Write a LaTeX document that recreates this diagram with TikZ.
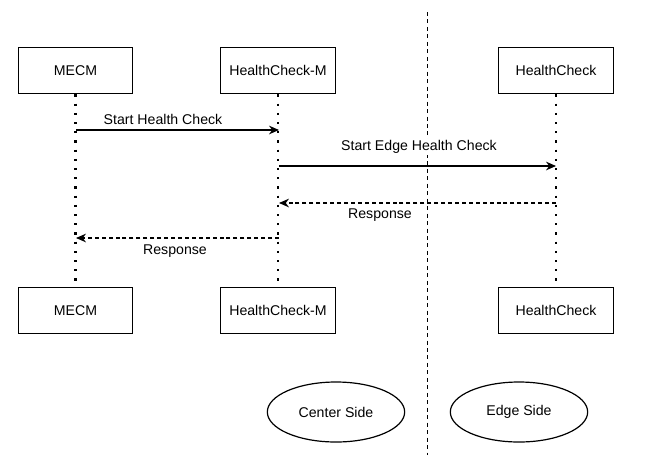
\documentclass[tikz,border=0pt]{standalone}
\usepackage{fontspec}
\setmainfont{Liberation Sans}
\usepackage{tikz}
\usetikzlibrary{arrows.meta}
\usetikzlibrary{shapes.geometric}

\begin{document}
\begin{tikzpicture}[x=0.75pt,y=-0.75pt,font=\fontsize{10.6}{12}\selectfont]
				\useasboundingbox (0,0) rectangle (661,469);
				\begin{scope}[every node/.style = {rectangle, draw, line width=0.9pt,
						minimum width=86pt, minimum height=35pt, inner sep=0pt}]
					\node (mecmT) at (75.5,70.5) {MECM};
					\node (hcmT) at (278,70.5) {HealthCheck-M};
					\node (hcT) at (556,70.5) {HealthCheck};
					\node (mecmB) at (75.5,310.5) {MECM};
					\node (hcmB) at (278,310.5) {HealthCheck-M};
					\node (hcB) at (556,310.5) {HealthCheck};
				\end{scope}
				\begin{scope}[every node/.style = {ellipse, draw, line width=0.9pt,
						minimum width=103pt, minimum height=45pt, inner sep=0pt}]
					\node (center) at (336,412) {Center Side};
					\node (edge) at (519,412) {Edge Side};
				\end{scope}
				% split between both sides
				\coordinate (splitT) at (427,12);
				\coordinate (splitB) at (427,455);
				\draw [line width=0.6pt, dash pattern=on 3pt off 2.6pt] (splitT) -- (splitB);
				% lifelines
				\begin{scope}[line width=1.6pt, dash pattern=on 1.6pt off 5.3pt]
					\draw (mecmT) -- (mecmB);
					\draw (hcmT) -- (hcmB);
					\draw (hcT) -- (hcB);
				\end{scope}
				% messages
				\coordinate (m1s) at (76,130);
				\coordinate (m1e) at (279,130);
				\coordinate (m2s) at (279,166);
				\coordinate (m2e) at (556,166);
				\coordinate (r1s) at (556,203);
				\coordinate (r1e) at (279,203);
				\coordinate (r2s) at (279,238);
				\coordinate (r2e) at (76,238);
				\begin{scope}[>={Stealth[length=7.5pt,width=6.5pt]}, line width=0.9pt]
					\draw [->] (m1s) -- (m1e);
					\draw [->] (m2s) -- (m2e);
					\draw [->, dash pattern=on 3pt off 2.2pt] (r1s) -- (r1e);
					\draw [->, dash pattern=on 3pt off 2.2pt] (r2s) -- (r2e);
				\end{scope}
				\node (l1) at (163,119) {Start Health Check};
				\node [fill=white, inner sep=1pt] (l2) at (419,147) {Start Edge Health Check};
				\node (l3) at (380,215) {Response};
				\node (l4) at (175,251) {Response};
			\end{tikzpicture}
\end{document}
